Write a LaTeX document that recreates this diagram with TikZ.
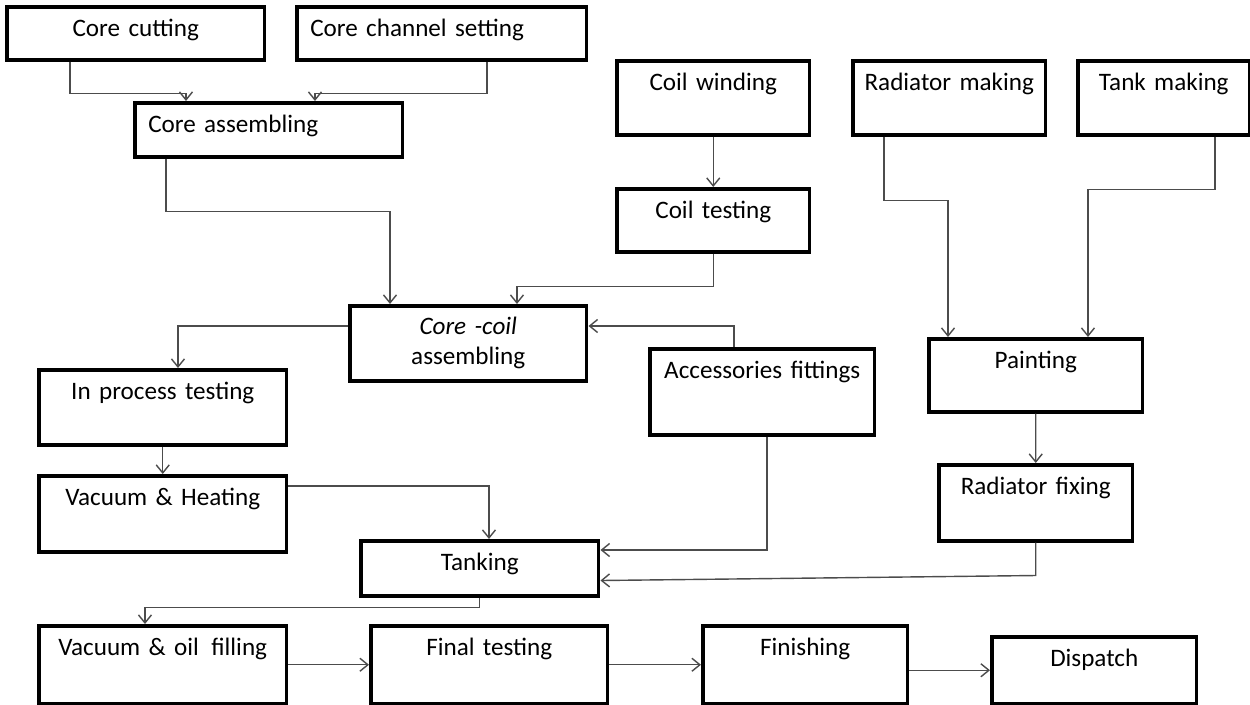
\documentclass[tikz,border=0pt]{standalone}
\usepackage{fontspec}
\setmainfont{Carlito}
\newfontfamily\boxfam{Carlito}[WordSpace=0.55]
\usepackage{tikz}
\usetikzlibrary{arrows.meta}

\begin{document}
\begin{tikzpicture}[x=0.02cm,y=-0.02cm,
  box/.style={draw,line width=2pt,anchor=north west,inner xsep=0pt,inner ysep=0pt,align=center,text height=0.6cm,font=\boxfam\fontsize{14.3}{17}\selectfont},
  lbox/.style={box,align=left,inner xsep=0.27cm},
  conn/.style={draw=black!70,line width=0.8pt,->},
  >={Straight Barb[length=1.6mm,width=2.6mm]}]
 \useasboundingbox (0,0) rectangle (1250,704);
 \node[box,text width=5.16cm,text depth=0.46cm] (cut) at (5,5) {Core cutting};
 \node[lbox,text width=5.26cm,text depth=0.46cm] (chan) at (295,5) {Core channel setting};
 \node[lbox,text width=4.82cm,text depth=0.48cm] (asm) at (133,101) {Core assembling};
 \node[box,text width=3.86cm,text depth=0.88cm] (wind) at (615,59) {Coil winding};
 \node[box,text width=3.86cm,text depth=0.88cm] (radm) at (851,59) {Radiator making};
 \node[box,text width=3.44cm,text depth=0.88cm] (tankm) at (1076,59) {Tank making};
 \node[box,text width=3.86cm,text depth=0.66cm] (ctest) at (615,187) {Coil testing};
 \node[box,text width=4.74cm,text height=0.58cm,text depth=0.92cm] (ccoil) at (348,304) {\textit{Core -coil}\\assembling};
 \node[box,text width=4.96cm,text depth=0.9cm] (ipt) at (37,368) {In process testing};
 \node[box,text width=4.5cm,text depth=1.12cm] (acc) at (648,347) {Accessories fittings};
 \node[box,text width=4.28cm,text depth=0.86cm] (paint) at (927,337) {Painting};
 \node[box,text width=4.96cm,text depth=0.92cm] (vh) at (37,474) {Vacuum \& Heating};
 \node[box,text width=3.88cm,text depth=0.92cm] (rfix) at (937,463) {Radiator fixing};
 \node[box,text width=4.76cm,text depth=0.5cm] (tank) at (359,539) {Tanking};
 \node[box,text width=4.96cm,text depth=0.96cm] (vof) at (37,624) {Vacuum \& oil\, filling};
 \node[box,text width=4.74cm,text depth=0.96cm] (ftest) at (369,624) {Final testing};
 \node[box,text width=4.1cm,text depth=0.96cm] (fin) at (701,624) {Finishing};
 \node[box,text width=4.1cm,text depth=0.74cm] (disp) at (990,635) {Dispatch};
 \draw[conn] ([xshift=1.3cm]cut.south west) -- ++(0,32) -| ([xshift=1.06cm]asm.north west);
 \draw[conn] ([xshift=3.84cm]chan.south west) -- ++(0,32) -| ([xshift=3.64cm]asm.north west);
 \draw[conn] ([xshift=0.66cm]asm.south west) -- ++(0,53) -| ([xshift=0.84cm]ccoil.north west);
 \draw[conn] (wind.south) -- (ctest.north);
 \draw[conn] (ctest.south) -- ++(0,33) -| ([xshift=3.38cm]ccoil.north west);
 \draw[conn] ([xshift=0.66cm]radm.south west) -- ++(0,64) -| ([xshift=0.42cm]paint.north west);
 \draw[conn] ([xshift=2.78cm]tankm.south west) -- ++(0,53) -| ([xshift=3.22cm]paint.north west);
 \draw[conn] ([yshift=-0.44cm]ccoil.north west) -| ([xshift=2.82cm]ipt.north west);
 \draw[conn] ([xshift=1.72cm]acc.north west) |- ([yshift=-0.44cm]ccoil.north east);
 \draw[conn] (ipt.south) -- (vh.north);
 \draw[conn] ([yshift=-0.24cm]vh.north east) -| ([xshift=2.6cm]tank.north west);
 \draw[conn] ([xshift=2.38cm]acc.south west) |- ([yshift=-0.22cm]tank.north east);
 \draw[conn] (paint.south) -- (rfix.north);
 \draw[conn] (rfix.south) -- ++(0,33) -- ([yshift=0.34cm]tank.south east);
 \draw[conn] (tank.south) -- ++(0,10) -| ([xshift=2.16cm]vof.north west);
 \draw[conn] (vof.east) -- (ftest.west);
 \draw[conn] (ftest.east) -- (fin.west);
 \draw[conn] (fin.east |- disp.west) -- (disp.west);
\end{tikzpicture}
\end{document}
